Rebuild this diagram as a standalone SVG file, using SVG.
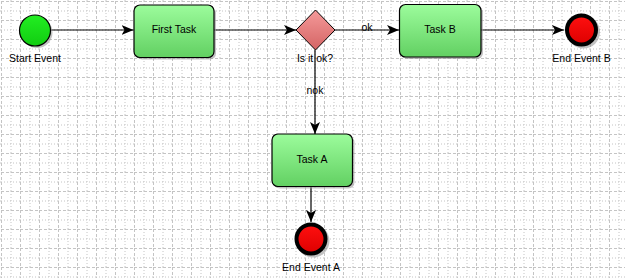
<svg xmlns="http://www.w3.org/2000/svg" width="625" height="278" viewBox="0 0 625 278">
<defs>
<style>
.lbl{font-family:"Liberation Sans",Arial,sans-serif;font-size:10.5px;fill:#000;text-anchor:middle}
.task{stroke:#000;stroke-width:1.2;fill:url(#gTask)}
.shadow{fill:#999;opacity:0.6}
.conn{stroke:#000;stroke-width:1.2;fill:none;marker-end:url(#arr)}
.endev{fill:url(#gRed);stroke:#000;stroke-width:4}
</style>
<pattern id="grid" x="1" y="1" width="19" height="19" patternUnits="userSpaceOnUse">
<path d="M0.5 0V19M0 0.5H19" stroke="#c4c4c4" stroke-width="1" stroke-dasharray="3,2" fill="none"/>
<path d="M10 0V19M0 10H19" stroke="#c4c4c4" stroke-width="1" stroke-dasharray="1,2" fill="none"/>
</pattern>
<linearGradient id="gTask" x1="0" y1="0" x2="0" y2="1">
<stop offset="0" stop-color="#9cfc9c"/>
<stop offset="1" stop-color="#62d062"/>
</linearGradient>
<linearGradient id="gStart" x1="0" y1="0" x2="0" y2="1">
<stop offset="0" stop-color="#22ee22"/>
<stop offset="1" stop-color="#11cc11"/>
</linearGradient>
<linearGradient id="gRed" x1="0" y1="0" x2="0" y2="1">
<stop offset="0" stop-color="#ff1010"/>
<stop offset="1" stop-color="#dd0000"/>
</linearGradient>
<linearGradient id="gGw" x1="0" y1="0" x2="0" y2="1">
<stop offset="0" stop-color="#f59a9a"/>
<stop offset="1" stop-color="#d46464"/>
</linearGradient>
<marker id="arr" viewBox="0 0 12 10" refX="12" refY="5" markerWidth="12" markerHeight="10" markerUnits="userSpaceOnUse" orient="auto">
<path d="M0 0L12 5L0 10L3 5Z" fill="#000"/>
</marker>
</defs>
<rect width="625" height="278" fill="#fff"/>
<rect width="625" height="278" fill="url(#grid)"/>

<g id="connectors">
<line class="conn" x1="50.5" y1="30" x2="133.5" y2="30"/>
<line class="conn" x1="214" y1="30" x2="296" y2="30"/>
<line class="conn" x1="335" y1="30" x2="399" y2="30"/>
<text class="lbl" x="367" y="31">ok</text>
<line class="conn" x1="481" y1="30" x2="564" y2="30"/>
<line class="conn" x1="315" y1="50" x2="315" y2="134"/>
<text class="lbl" x="315" y="94">nok</text>
<line class="conn" x1="311" y1="187" x2="311" y2="222"/>
</g>

<g id="start-event">
<circle class="shadow" cx="37" cy="32.5" r="15.5"/>
<circle cx="35" cy="30.5" r="15.5" fill="url(#gStart)" stroke="#000" stroke-width="1.2"/>
<text class="lbl" x="35" y="62">Start Event</text>
</g>

<g id="first-task">
<rect class="shadow" x="136" y="7" width="80" height="52.5" rx="6"/>
<rect class="task" x="134" y="5" width="80" height="52.5" rx="6"/>
<text class="lbl" x="174" y="32.5">First Task</text>
</g>

<g id="gateway">
<path d="M315.5 10L335 30L315.5 50L296 30Z" fill="url(#gGw)" stroke="#000" stroke-width="1"/>
<text class="lbl" x="315" y="62">Is it ok?</text>
</g>

<g id="task-b">
<rect class="shadow" x="401.5" y="6.5" width="81.5" height="52.5" rx="6"/>
<rect class="task" x="399.5" y="4.5" width="81.5" height="52.5" rx="6"/>
<text class="lbl" x="440" y="32.5">Task B</text>
</g>

<g id="end-event-b">
<circle class="shadow" cx="583.5" cy="32" r="16.5"/>
<circle class="endev" cx="581.5" cy="30" r="14.5"/>
<text class="lbl" x="581.5" y="62">End Event B</text>
</g>

<g id="task-a">
<rect class="shadow" x="274" y="136" width="80.5" height="52.5" rx="6"/>
<rect class="task" x="272" y="134" width="80.5" height="52.5" rx="6"/>
<text class="lbl" x="312" y="162.5">Task A</text>
</g>

<g id="end-event-a">
<circle class="shadow" cx="313" cy="241" r="16.5"/>
<circle class="endev" cx="311" cy="239" r="14.5"/>
<text class="lbl" x="311" y="271">End Event A</text>
</g>
</svg>
